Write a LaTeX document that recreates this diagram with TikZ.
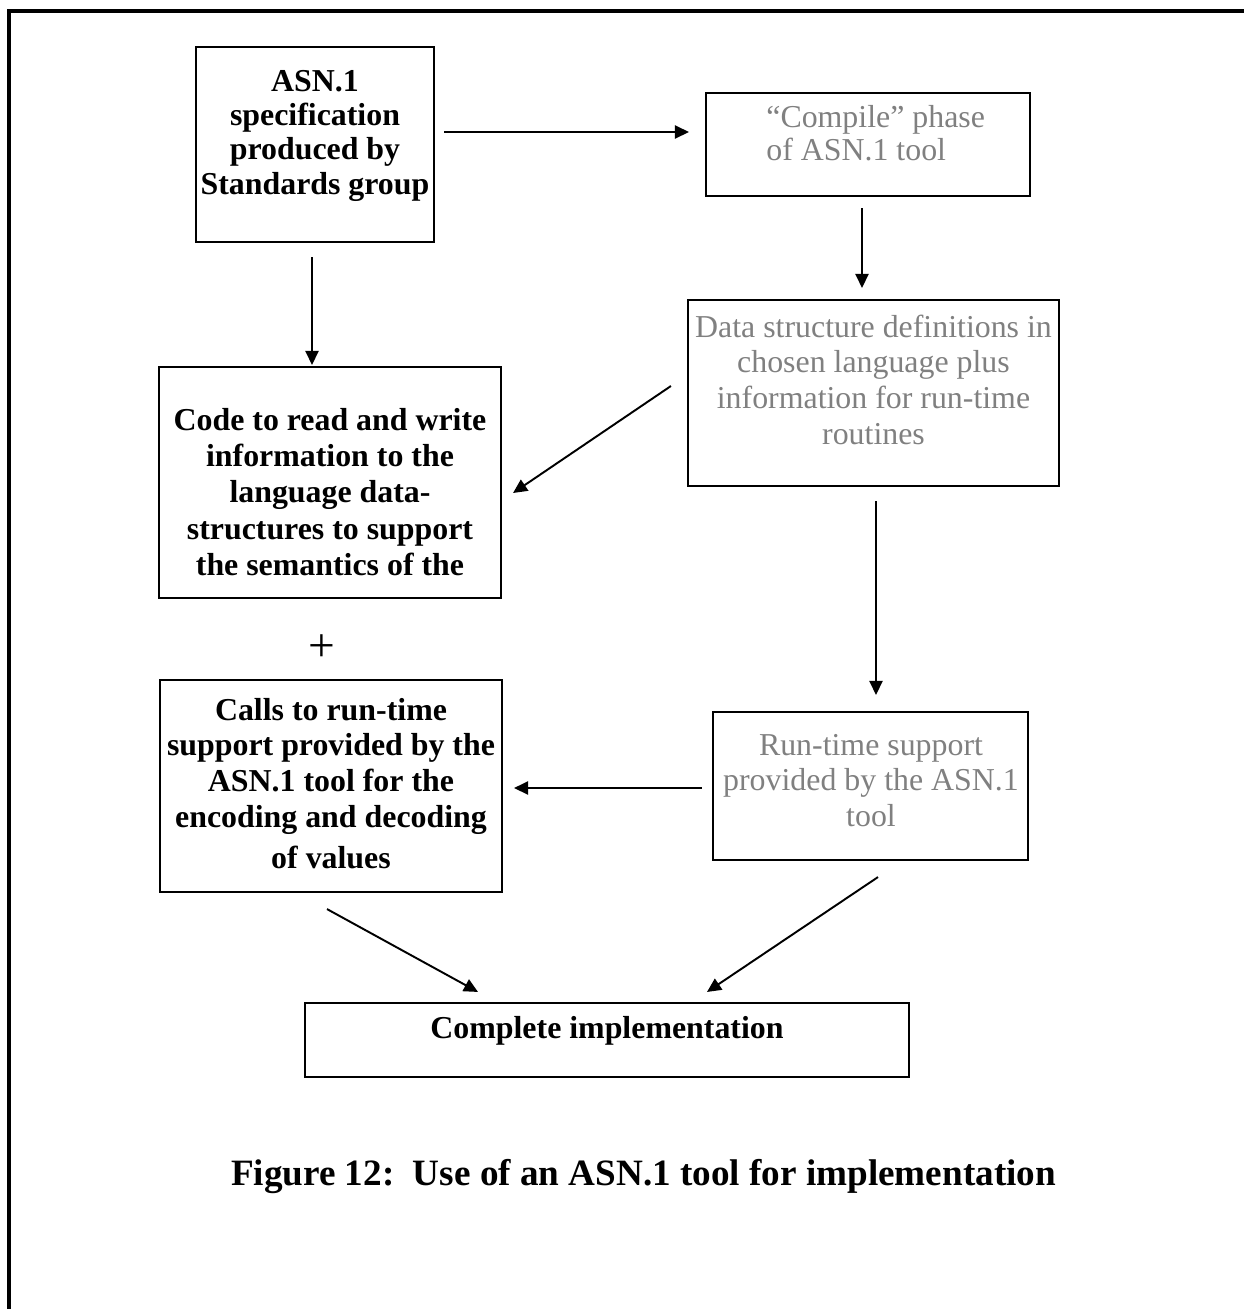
\documentclass[tikz,border=0pt]{standalone}
\usepackage{fontspec}
\setmainfont{Liberation Serif}
\usetikzlibrary{arrows.meta}
\definecolor{softgray}{RGB}{128,128,128}
% stacked lines; baseline of the node = baseline of the first line
\newcommand{\linesc}[2]{{\fontsize{18.14pt}{#1}\selectfont\begin{tabular}[t]{@{}c@{}}#2\end{tabular}}}
\newcommand{\linesl}[2]{{\fontsize{18.14pt}{#1}\selectfont\begin{tabular}[t]{@{}l@{}}#2\end{tabular}}}
\begin{document}
\begin{tikzpicture}[x=0.02cm,y=-0.02cm,
  frame/.style={line width=2.3pt},
  box/.style={draw,line width=1.2pt,rectangle,inner sep=0pt,minimum width=#1},
  boldtxt/.style={inner sep=0pt,font=\bfseries,text=black},
  graytxt/.style={inner sep=0pt,text=softgray},
  arr/.style={line width=1.1pt,-{Triangle[length=8pt,width=7.5pt]}}]
\useasboundingbox (0,0) rectangle (1244,1309);
% outer frame: top and left edges
\draw[frame] (1244,11) -- (9,11) -- (9,1309);

% boxes
\node[box=238*0.02cm,minimum height=195*0.02cm] (A) at (315,144.5) {};
\node[box=324*0.02cm,minimum height=103*0.02cm] (B) at (868,144.5) {};
\node[box=371*0.02cm,minimum height=186*0.02cm] (C) at (873.5,393) {};
\node[box=342*0.02cm,minimum height=231*0.02cm] (D) at (330,482.5) {};
\node[box=342*0.02cm,minimum height=212*0.02cm] (E) at (331,786) {};
\node[box=315*0.02cm,minimum height=148*0.02cm] (F) at (870.5,786) {};
\node[box=604*0.02cm,minimum height=74*0.02cm] (G) at (607,1040) {};

% box texts
\node[boldtxt,anchor=base] (At) at (315,91)
  {\linesc{19.56pt}{ASN.1\\specification\\produced by\\Standards group}};
\node[graytxt,anchor=base west] (Bt) at (766,127)
  {\linesl{19.27pt}{“Compile” phase\\of ASN.1 tool}};
\node[graytxt,anchor=base] (Ct) at (873.5,337)
  {\linesc{20.41pt}{Data structure definitions in\\chosen language plus\\information for run-time\\routines}};
\node[boldtxt,anchor=base] (Dt) at (330,430)
  {\linesc{20.69pt}{Code to read and write\\information to the\\language data-\\structures to support\\the semantics of the}};
\node[boldtxt,anchor=base] (Et) at (331,720)
  {\linesc{20.41pt}{Calls to run-time\\support provided by the\\ASN.1 tool for the\\encoding and decoding\\[3pt]of values}};
\node[graytxt,anchor=base] (Ft) at (871,755)
  {\linesc{20.41pt}{Run-time support\\provided by the ASN.1\\tool}};
\node[boldtxt,anchor=base,font=\bfseries\fontsize{18.14pt}{20pt}\selectfont] (Gt) at (607,1038)
  {Complete implementation};

% plus sign between the two code boxes
\node[inner sep=0pt,font=\fontsize{27pt}{30pt}\selectfont] (plus) at (322,648) {+};

% connectors
\draw[arr] ([shift={(9,-12.5)}]A.east) -- ([shift={(-16,-12.5)}]B.west);
\draw[arr] ([shift={(-6,11)}]B.south) -- ([shift={(-11.5,-11)}]C.north);
\draw[arr] ([shift={(-3,14)}]A.south) -- ([shift={(-18,-1)}]D.north);
\draw[arr] ([shift={(-16,-7)}]C.west) -- ([shift={(11,10.5)}]D.east);
\draw[arr] ([shift={(2.5,14)}]C.south) -- ([shift={(5.5,-16)}]F.north);
\draw[arr] ([shift={(-10,2)}]F.west) -- ([shift={(11,2)}]E.east);
\draw[arr] ([shift={(-4,16)}]E.south) -- ([shift={(-129,-10)}]G.north);
\draw[arr] ([shift={(7.5,16)}]F.south) -- ([shift={(100,-10)}]G.north);

% caption
\node[boldtxt,anchor=base,font=\bfseries\fontsize{21.15pt}{24pt}\selectfont] (cap) at (643.5,1185)
  {Figure 12:\ \ Use of an ASN.1 tool for implementation};
\end{tikzpicture}
\end{document}
